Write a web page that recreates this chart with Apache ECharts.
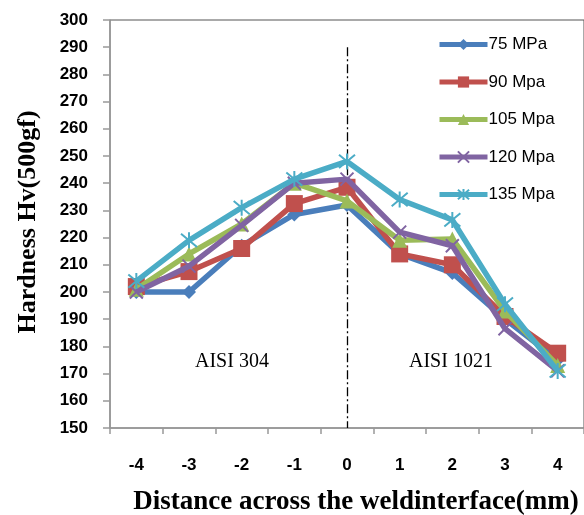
<!DOCTYPE html>
<html>
<head>
<meta charset="utf-8">
<style>
html,body{margin:0;padding:0;background:#fff;}
#chart{width:584px;height:515px;}
</style>
<script src="https://cdn.jsdelivr.net/npm/echarts@6/dist/echarts.min.js"></script>
</head>
<body>
<div id="chart"></div>
<script>
var categories = ['-4','-3','-2','-1','0','1','2','3','4'];
var yTicks = [150,160,170,180,190,200,210,220,230,240,250,260,270,280,290,300];
var s75  = [200, 200, 217, 228.5, 232, 214, 207, 190, 175];
var s90  = [202, 207.5, 216, 232.5, 238.5, 214, 210, 191, 177.5];
var s105 = [201, 214, 225, 240, 233.5, 219, 219.5, 193, 173];
var s120 = [200, 209.5, 224.5, 240, 241.5, 222, 217, 186.5, 171];
var s135 = [204, 219, 231, 241.5, 248, 234, 226.5, 195.5, 171];
var seriesNames = ['75 MPa','90 Mpa','105 Mpa','120 Mpa','135 Mpa'];
var colors = ['#4A7EBB','#C0504D','#9BBB59','#8064A2','#4BACC6'];
var dividerLine = [['0', 290], ['0', 150]];
var regionLabels = ['AISI 304', 'AISI 1021'];

var chart = echarts.init(document.getElementById('chart'), null, {renderer:'canvas'});
var allData = [s75, s90, s105, s120, s135];
var symbols = ['diamond','rect','triangle','path://M0,0L10,10M10,0L0,10','path://M0,0L10,10M10,0L0,10M5,-1L5,11'];
var sizes = [14, 17, 15, 13, 16];
var series = allData.map(function(d, i){
  var strokeSym = i >= 3;
  var s = {
    name: seriesNames[i],
    type: 'line',
    data: d,
    symbol: symbols[i],
    symbolSize: sizes[i],
    showAllSymbol: true,
    lineStyle: {width: 5.5, color: colors[i]},
    itemStyle: strokeSym ? {color: 'rgba(0,0,0,0)', borderColor: colors[i], borderWidth: 2} : {color: colors[i], borderWidth: 0},
    emphasis: {disabled: true},
    z: 2 + i
  };
  if (i === 0) {
    s.markLine = {
      silent: true,
      symbol: ['none','none'],
      label: {show: false},
      lineStyle: {color: '#000', width: 1.3, type: [9, 3, 2, 3]},
      data: [[{coord: dividerLine[0]}, {coord: dividerLine[1]}]],
      z: 1
    };
  }
  return s;
});

var option = {
  animation: false,
  color: colors,
  grid: {left: 110, top: 20, right: -10, bottom: 87, show: true, borderColor: '#555', borderWidth: 1},
  legend: {
    orient: 'vertical',
    left: 437, top: 36, padding: 0,
    itemWidth: 48, itemHeight: 14, itemGap: 20.5,
    lineStyle: {width: 5},
    textStyle: {fontFamily: 'Liberation Sans, Arial, sans-serif', fontSize: 17, color: '#000', padding:[0,0,0,-4]},
    data: seriesNames
  },
  xAxis: {
    type: 'category',
    data: categories,
    boundaryGap: true,
    axisLine: {lineStyle: {color: '#999', width: 1.5}},
    axisTick: {show: true, length: 6, lineStyle: {color: '#999', width: 1.5}},
    axisLabel: {margin: 29, color: '#000', fontWeight: 'bold', fontSize: 17, fontFamily: 'Liberation Sans, Arial, sans-serif'},
    splitLine: {show: false}
  },
  yAxis: {
    type: 'value',
    min: 150, max: 300, interval: 10,
    axisLine: {show: true, lineStyle: {color: '#999', width: 1.5}},
    axisTick: {show: true, length: 7, lineStyle: {color: '#999', width: 1.5}},
    axisLabel: {margin: 22, color: '#000', fontWeight: 'bold', fontSize: 17, fontFamily: 'Liberation Sans, Arial, sans-serif',
      formatter: function(v){ return yTicks.indexOf(v) >= 0 ? String(v) : ''; }},
    splitLine: {show: false}
  },
  graphic: [
    {type: 'text', x: 356, y: 502, style: {text: 'Distance across the weldinterface(mm)', fill: '#000', font: 'bold 27px "Liberation Serif", "Times New Roman", serif', textAlign: 'center', textVerticalAlign: 'middle'}},
    {type: 'text', rotation: Math.PI/2, x: 28, y: 222, style: {text: 'Hardness Hv(500gf)', fill: '#000', font: 'bold 26px "Liberation Serif", "Times New Roman", serif', textAlign: 'center', textVerticalAlign: 'middle'}},
    {type: 'text', x: 195, y: 362, style: {text: regionLabels[0], fill: '#000', font: '20px "Liberation Serif", "Times New Roman", serif', textVerticalAlign: 'middle'}},
    {type: 'text', x: 409, y: 362, style: {text: regionLabels[1], fill: '#000', font: '20px "Liberation Serif", "Times New Roman", serif', textVerticalAlign: 'middle'}}
  ],
  series: series
};
chart.setOption(option);
</script>
</body>
</html>
